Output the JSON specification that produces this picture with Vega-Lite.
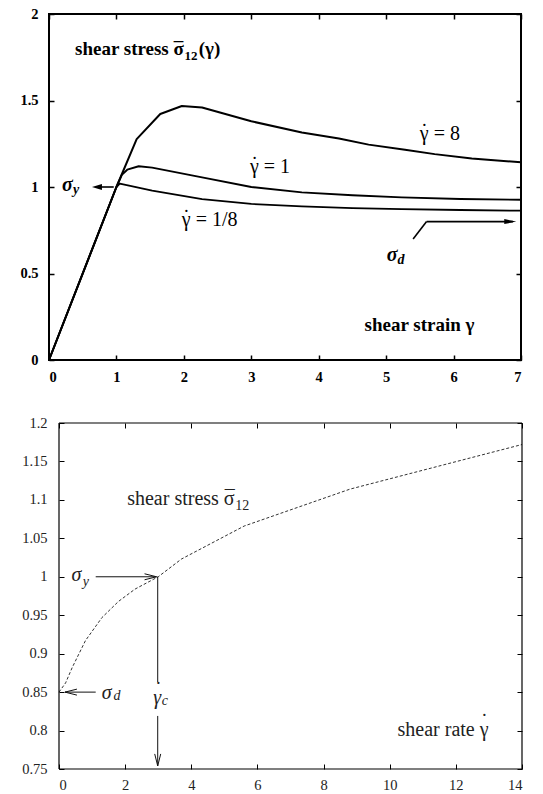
{
  "$schema": "https://vega.github.io/schema/vega-lite/v6.json",
  "padding": {"left": 18, "top": 5, "right": 5, "bottom": 0},
  "spacing": 30,
  "config": {
    "view": {"stroke": "black"},
    "axis": {"domain": false, "grid": false, "tickSize": -5, "tickColor": "black", "minExtent": 0, "title": null, "labelColor": "black", "labelFont": "Liberation Serif"},
    "text": {"font": "Liberation Serif"}
  },
  "datasets": {
    "curves": [
      {"x": 0, "y": 0, "rate": "8"}, {"x": 1, "y": 1, "rate": "8"}, {"x": 1.3, "y": 1.277, "rate": "8"}, {"x": 1.65, "y": 1.422, "rate": "8"}, {"x": 1.97, "y": 1.468, "rate": "8"}, {"x": 2.27, "y": 1.46, "rate": "8"}, {"x": 3.0, "y": 1.38, "rate": "8"}, {"x": 3.75, "y": 1.315, "rate": "8"}, {"x": 4.3, "y": 1.28, "rate": "8"}, {"x": 4.74, "y": 1.245, "rate": "8"}, {"x": 5.28, "y": 1.215, "rate": "8"}, {"x": 5.72, "y": 1.19, "rate": "8"}, {"x": 6.27, "y": 1.165, "rate": "8"}, {"x": 7, "y": 1.143, "rate": "8"},
      {"x": 0, "y": 0, "rate": "1"}, {"x": 1, "y": 1, "rate": "1"}, {"x": 1.08, "y": 1.07, "rate": "1"}, {"x": 1.16, "y": 1.1, "rate": "1"}, {"x": 1.33, "y": 1.12, "rate": "1"}, {"x": 1.53, "y": 1.112, "rate": "1"}, {"x": 2.27, "y": 1.056, "rate": "1"}, {"x": 3.0, "y": 1.0, "rate": "1"}, {"x": 3.75, "y": 0.969, "rate": "1"}, {"x": 4.5, "y": 0.952, "rate": "1"}, {"x": 5.23, "y": 0.94, "rate": "1"}, {"x": 6.1, "y": 0.931, "rate": "1"}, {"x": 7, "y": 0.926, "rate": "1"},
      {"x": 0, "y": 0, "rate": "1/8"}, {"x": 1, "y": 1, "rate": "1/8"}, {"x": 1.05, "y": 1.02, "rate": "1/8"}, {"x": 1.53, "y": 0.979, "rate": "1/8"}, {"x": 2.27, "y": 0.93, "rate": "1/8"}, {"x": 3.0, "y": 0.902, "rate": "1/8"}, {"x": 3.75, "y": 0.888, "rate": "1/8"}, {"x": 4.5, "y": 0.878, "rate": "1/8"}, {"x": 5.23, "y": 0.872, "rate": "1/8"}, {"x": 6.1, "y": 0.867, "rate": "1/8"}, {"x": 7, "y": 0.863, "rate": "1/8"}
    ],
    "topArrowLines": [
      {"x": 0.96, "y": 1.0, "x2": 0.7, "y2": 1.0},
      {"x": 5.40, "y": 0.699, "x2": 5.60, "y2": 0.80},
      {"x": 5.60, "y": 0.80, "x2": 6.88, "y2": 0.80}
    ],
    "topHeadLeft": [{"x": 0.637, "y": 1.0}],
    "topHeadRight": [{"x": 6.93, "y": 0.80}],
    "topBoldRight": [
      {"x": 2.0, "y": 1.763, "text": "shear stress σ"}
    ],
    "topBoldLeft": [
      {"x": 2.22, "y": 1.763, "text": "(γ)"},
      {"x": 4.68, "y": 0.169, "text": "shear strain γ"}
    ],
    "topBoldSub": [
      {"x": 2.01, "y": 1.735, "text": "12"}
    ],
    "topBoldBar": [
      {"x": 1.92, "y": 1.763, "text": "¯"}
    ],
    "topMath": [
      {"x": 5.50, "y": 1.272, "text": "γ = 8"},
      {"x": 2.98, "y": 1.081, "text": "γ = 1"},
      {"x": 1.97, "y": 0.775, "text": "γ = 1/8"}
    ],
    "topDots": [
      {"x": 5.567, "y": 1.282, "text": "˙"},
      {"x": 3.047, "y": 1.091, "text": "˙"},
      {"x": 2.037, "y": 0.785, "text": "˙"}
    ],
    "topSigma": [
      {"x": 0.193, "y": 0.977, "text": "σ"},
      {"x": 5.01, "y": 0.574, "text": "σ"}
    ],
    "topSub": [
      {"x": 0.356, "y": 0.96, "text": "y"},
      {"x": 5.17, "y": 0.555, "text": "d"}
    ],
    "rateCurve": [
      {"x": 0, "y": 0.85}, {"x": 0.2, "y": 0.862}, {"x": 0.4, "y": 0.882}, {"x": 0.8, "y": 0.917}, {"x": 1.3, "y": 0.947}, {"x": 1.8, "y": 0.968}, {"x": 2.3, "y": 0.984}, {"x": 3.0, "y": 1.0}, {"x": 3.7, "y": 1.023}, {"x": 5.6, "y": 1.066}, {"x": 8.8, "y": 1.114}, {"x": 14, "y": 1.172}
    ],
    "botFrame": [
      {"x": 0, "y": 0.75, "x2": 14, "y2": 0.75},
      {"x": 0, "y": 1.2, "x2": 14, "y2": 1.2},
      {"x": 0, "y": 0.75, "x2": 0, "y2": 1.2},
      {"x": 14, "y": 0.75, "x2": 14, "y2": 1.2}
    ],
    "botArrowLines": [
      {"x": 1.11, "y": 1.0, "x2": 2.95, "y2": 1.0},
      {"x": 1.11, "y": 0.85, "x2": 0.18, "y2": 0.85},
      {"x": 2.985, "y": 1.0, "x2": 2.985, "y2": 0.863},
      {"x": 2.985, "y": 0.819, "x2": 2.985, "y2": 0.754}
    ],
    "botHeadRight": [{"x": 2.95, "y": 1.0}],
    "botHeadLeft": [{"x": 0.18, "y": 0.85}],
    "botHeadDown": [{"x": 2.985, "y": 0.754}],
    "botTextRight": [
      {"x": 5.31, "y": 1.093, "text": "shear stress σ"},
      {"x": 12.99, "y": 0.793, "text": "shear rate γ"}
    ],
    "botTextSub": [
      {"x": 5.33, "y": 1.087, "text": "12"}
    ],
    "botMarks": [
      {"x": 5.16, "y": 1.093, "text": "¯"},
      {"x": 12.86, "y": 0.803, "text": "˙"},
      {"x": 3.0, "y": 0.845, "text": "˙"}
    ],
    "botMath": [
      {"x": 0.38, "y": 0.995, "text": "σ"},
      {"x": 1.29, "y": 0.841, "text": "σ"},
      {"x": 2.85, "y": 0.835, "text": "γ"}
    ],
    "botSub": [
      {"x": 0.717, "y": 0.988, "text": "y"},
      {"x": 1.645, "y": 0.84, "text": "d"},
      {"x": 3.11, "y": 0.833, "text": "c"}
    ]
  },
  "vconcat": [
    {
      "width": 472,
      "height": 346,
      "view": {"stroke": "black", "strokeWidth": 2},
      "resolve": {"axis": {"x": "independent", "y": "independent"}},
      "layer": [
        {
          "data": {"name": "curves"},
          "mark": {"type": "line", "color": "black", "strokeJoin": "round"},
          "encoding": {
            "x": {"field": "x", "type": "quantitative", "scale": {"domain": [0, 7], "nice": false, "zero": false},
                  "axis": {"orient": "bottom", "values": [0, 1, 2, 3, 4, 5, 6, 7], "labelFont": "Liberation Serif", "labelFontWeight": "bold", "labelFontSize": 14.5, "labelPadding": 15, "tickWidth": 1.5}},
            "y": {"field": "y", "type": "quantitative", "scale": {"domain": [0, 2], "nice": false},
                  "axis": {"orient": "left", "values": [0, 0.5, 1, 1.5, 2], "format": "~g", "labelFont": "Liberation Serif", "labelFontWeight": "bold", "labelFontSize": 14.5, "labelPadding": 16, "tickWidth": 1.5}},
            "strokeWidth": {"field": "rate", "type": "nominal", "scale": {"domain": ["8", "1", "1/8"], "range": [2, 1.8, 1.1]}, "legend": null}
          }
        },
        {
          "data": {"name": "topArrowLines"},
          "mark": {"type": "rule", "color": "black", "strokeWidth": 1.6},
          "encoding": {
            "x": {"field": "x", "type": "quantitative", "scale": {"domain": [0, 7], "nice": false, "zero": false},
                  "axis": {"orient": "top", "values": [0, 1, 2, 3, 4, 5, 6, 7], "labels": false, "tickWidth": 1.5}},
            "y": {"field": "y", "type": "quantitative", "scale": {"domain": [0, 2], "nice": false},
                  "axis": {"orient": "right", "values": [0, 0.5, 1, 1.5, 2], "labels": false, "tickWidth": 1.5}},
            "x2": {"field": "x2"},
            "y2": {"field": "y2"}
          }
        },
        {
          "data": {"name": "topHeadLeft"},
          "mark": {"type": "point", "shape": "M0,0L2,-0.6L2,0.6Z", "filled": true, "color": "black", "size": 100, "opacity": 1},
          "encoding": {
            "x": {"field": "x", "type": "quantitative", "scale": {"domain": [0, 7], "nice": false, "zero": false}, "axis": null},
            "y": {"field": "y", "type": "quantitative", "scale": {"domain": [0, 2], "nice": false}, "axis": null}
          }
        },
        {
          "data": {"name": "topHeadRight"},
          "mark": {"type": "point", "shape": "M0,0L-2.4,-0.5L-2.4,0.5Z", "filled": true, "color": "black", "size": 100, "opacity": 1},
          "encoding": {
            "x": {"field": "x", "type": "quantitative", "scale": {"domain": [0, 7], "nice": false, "zero": false}, "axis": null},
            "y": {"field": "y", "type": "quantitative", "scale": {"domain": [0, 2], "nice": false}, "axis": null}
          }
        },
        {
          "data": {"name": "topBoldRight"},
          "mark": {"type": "text", "align": "right", "baseline": "alphabetic", "fontSize": 19, "fontWeight": "bold", "color": "black"},
          "encoding": {
            "x": {"field": "x", "type": "quantitative", "scale": {"domain": [0, 7], "nice": false, "zero": false}, "axis": null},
            "y": {"field": "y", "type": "quantitative", "scale": {"domain": [0, 2], "nice": false}, "axis": null},
            "text": {"field": "text"}
          }
        },
        {
          "data": {"name": "topBoldLeft"},
          "mark": {"type": "text", "align": "left", "baseline": "alphabetic", "fontSize": 19, "fontWeight": "bold", "color": "black"},
          "encoding": {
            "x": {"field": "x", "type": "quantitative", "scale": {"domain": [0, 7], "nice": false, "zero": false}, "axis": null},
            "y": {"field": "y", "type": "quantitative", "scale": {"domain": [0, 2], "nice": false}, "axis": null},
            "text": {"field": "text"}
          }
        },
        {
          "data": {"name": "topBoldSub"},
          "mark": {"type": "text", "align": "left", "baseline": "alphabetic", "fontSize": 13, "fontWeight": "bold", "color": "black"},
          "encoding": {
            "x": {"field": "x", "type": "quantitative", "scale": {"domain": [0, 7], "nice": false, "zero": false}, "axis": null},
            "y": {"field": "y", "type": "quantitative", "scale": {"domain": [0, 2], "nice": false}, "axis": null},
            "text": {"field": "text"}
          }
        },
        {
          "data": {"name": "topBoldBar"},
          "mark": {"type": "text", "align": "center", "baseline": "alphabetic", "fontSize": 19, "fontWeight": "bold", "color": "black"},
          "encoding": {
            "x": {"field": "x", "type": "quantitative", "scale": {"domain": [0, 7], "nice": false, "zero": false}, "axis": null},
            "y": {"field": "y", "type": "quantitative", "scale": {"domain": [0, 2], "nice": false}, "axis": null},
            "text": {"field": "text"}
          }
        },
        {
          "data": {"name": "topMath"},
          "mark": {"type": "text", "align": "left", "baseline": "alphabetic", "fontSize": 20, "color": "black"},
          "encoding": {
            "x": {"field": "x", "type": "quantitative", "scale": {"domain": [0, 7], "nice": false, "zero": false}, "axis": null},
            "y": {"field": "y", "type": "quantitative", "scale": {"domain": [0, 2], "nice": false}, "axis": null},
            "text": {"field": "text"}
          }
        },
        {
          "data": {"name": "topDots"},
          "mark": {"type": "text", "align": "center", "baseline": "alphabetic", "fontSize": 20, "color": "black"},
          "encoding": {
            "x": {"field": "x", "type": "quantitative", "scale": {"domain": [0, 7], "nice": false, "zero": false}, "axis": null},
            "y": {"field": "y", "type": "quantitative", "scale": {"domain": [0, 2], "nice": false}, "axis": null},
            "text": {"field": "text"}
          }
        },
        {
          "data": {"name": "topSigma"},
          "mark": {"type": "text", "align": "left", "baseline": "alphabetic", "fontSize": 20, "fontWeight": "bold", "fontStyle": "italic", "color": "black"},
          "encoding": {
            "x": {"field": "x", "type": "quantitative", "scale": {"domain": [0, 7], "nice": false, "zero": false}, "axis": null},
            "y": {"field": "y", "type": "quantitative", "scale": {"domain": [0, 2], "nice": false}, "axis": null},
            "text": {"field": "text"}
          }
        },
        {
          "data": {"name": "topSub"},
          "mark": {"type": "text", "align": "left", "baseline": "alphabetic", "fontSize": 14, "fontWeight": "bold", "fontStyle": "italic", "color": "black"},
          "encoding": {
            "x": {"field": "x", "type": "quantitative", "scale": {"domain": [0, 7], "nice": false, "zero": false}, "axis": null},
            "y": {"field": "y", "type": "quantitative", "scale": {"domain": [0, 2], "nice": false}, "axis": null},
            "text": {"field": "text"}
          }
        }
      ]
    },
    {
      "width": 473,
      "height": 346,
      "view": {"stroke": null},
      "resolve": {"axis": {"x": "independent", "y": "independent"}},
      "layer": [
        {
          "data": {"name": "rateCurve"},
          "mark": {"type": "line", "color": "#333", "strokeWidth": 1, "strokeDash": [3, 2]},
          "encoding": {
            "x": {"field": "x", "type": "quantitative", "scale": {"domain": [0, 14], "nice": false, "zero": false, "range": [10, 473]},
                  "axis": {"orient": "bottom", "values": [0, 2, 4, 6, 8, 10, 12, 14], "labelFont": "Liberation Serif", "labelFontSize": 14.5, "labelPadding": 14, "labelColor": "#222"}},
            "y": {"field": "y", "type": "quantitative", "scale": {"domain": [0.75, 1.2], "nice": false, "zero": false},
                  "axis": {"orient": "left", "offset": -10, "values": [0.75, 0.8, 0.85, 0.9, 0.95, 1, 1.05, 1.1, 1.15, 1.2], "format": "~g", "labelFont": "Liberation Serif", "labelFontSize": 14.5, "labelPadding": 17, "labelColor": "#222"}}
          }
        },
        {
          "data": {"name": "botFrame"},
          "mark": {"type": "rule", "color": "black", "strokeWidth": 1.2},
          "encoding": {
            "x": {"field": "x", "type": "quantitative", "scale": {"domain": [0, 14], "nice": false, "zero": false, "range": [10, 473]},
                  "axis": {"orient": "top", "values": [0, 2, 4, 6, 8, 10, 12, 14], "labels": false}},
            "y": {"field": "y", "type": "quantitative", "scale": {"domain": [0.75, 1.2], "nice": false, "zero": false},
                  "axis": {"orient": "right", "values": [0.75, 0.8, 0.85, 0.9, 0.95, 1, 1.05, 1.1, 1.15, 1.2], "labels": false}},
            "x2": {"field": "x2"},
            "y2": {"field": "y2"}
          }
        },
        {
          "data": {"name": "botArrowLines"},
          "mark": {"type": "rule", "color": "#111", "strokeWidth": 1},
          "encoding": {
            "x": {"field": "x", "type": "quantitative", "scale": {"domain": [0, 14], "nice": false, "zero": false, "range": [10, 473]}, "axis": null},
            "y": {"field": "y", "type": "quantitative", "scale": {"domain": [0.75, 1.2], "nice": false, "zero": false}, "axis": null},
            "x2": {"field": "x2"},
            "y2": {"field": "y2"}
          }
        },
        {
          "data": {"name": "botHeadRight"},
          "mark": {"type": "point", "shape": "M-2.4,-0.6L0,0L-2.4,0.6", "filled": false, "color": "#111", "strokeWidth": 1, "size": 100, "opacity": 1},
          "encoding": {
            "x": {"field": "x", "type": "quantitative", "scale": {"domain": [0, 14], "nice": false, "zero": false, "range": [10, 473]}, "axis": null},
            "y": {"field": "y", "type": "quantitative", "scale": {"domain": [0.75, 1.2], "nice": false, "zero": false}, "axis": null}
          }
        },
        {
          "data": {"name": "botHeadLeft"},
          "mark": {"type": "point", "shape": "M2.4,-0.6L0,0L2.4,0.6", "filled": false, "color": "#111", "strokeWidth": 1, "size": 100, "opacity": 1},
          "encoding": {
            "x": {"field": "x", "type": "quantitative", "scale": {"domain": [0, 14], "nice": false, "zero": false, "range": [10, 473]}, "axis": null},
            "y": {"field": "y", "type": "quantitative", "scale": {"domain": [0.75, 1.2], "nice": false, "zero": false}, "axis": null}
          }
        },
        {
          "data": {"name": "botHeadDown"},
          "mark": {"type": "point", "shape": "M-0.6,-2.4L0,0L0.6,-2.4", "filled": false, "color": "#111", "strokeWidth": 1, "size": 100, "opacity": 1},
          "encoding": {
            "x": {"field": "x", "type": "quantitative", "scale": {"domain": [0, 14], "nice": false, "zero": false, "range": [10, 473]}, "axis": null},
            "y": {"field": "y", "type": "quantitative", "scale": {"domain": [0.75, 1.2], "nice": false, "zero": false}, "axis": null}
          }
        },
        {
          "data": {"name": "botTextRight"},
          "mark": {"type": "text", "align": "right", "baseline": "alphabetic", "fontSize": 20, "color": "#222"},
          "encoding": {
            "x": {"field": "x", "type": "quantitative", "scale": {"domain": [0, 14], "nice": false, "zero": false, "range": [10, 473]}, "axis": null},
            "y": {"field": "y", "type": "quantitative", "scale": {"domain": [0.75, 1.2], "nice": false, "zero": false}, "axis": null},
            "text": {"field": "text"}
          }
        },
        {
          "data": {"name": "botTextSub"},
          "mark": {"type": "text", "align": "left", "baseline": "alphabetic", "fontSize": 14, "color": "#222"},
          "encoding": {
            "x": {"field": "x", "type": "quantitative", "scale": {"domain": [0, 14], "nice": false, "zero": false, "range": [10, 473]}, "axis": null},
            "y": {"field": "y", "type": "quantitative", "scale": {"domain": [0.75, 1.2], "nice": false, "zero": false}, "axis": null},
            "text": {"field": "text"}
          }
        },
        {
          "data": {"name": "botMarks"},
          "mark": {"type": "text", "align": "center", "baseline": "alphabetic", "fontSize": 20, "color": "#222"},
          "encoding": {
            "x": {"field": "x", "type": "quantitative", "scale": {"domain": [0, 14], "nice": false, "zero": false, "range": [10, 473]}, "axis": null},
            "y": {"field": "y", "type": "quantitative", "scale": {"domain": [0.75, 1.2], "nice": false, "zero": false}, "axis": null},
            "text": {"field": "text"}
          }
        },
        {
          "data": {"name": "botMath"},
          "mark": {"type": "text", "align": "left", "baseline": "alphabetic", "fontSize": 20, "fontStyle": "italic", "color": "#222"},
          "encoding": {
            "x": {"field": "x", "type": "quantitative", "scale": {"domain": [0, 14], "nice": false, "zero": false, "range": [10, 473]}, "axis": null},
            "y": {"field": "y", "type": "quantitative", "scale": {"domain": [0.75, 1.2], "nice": false, "zero": false}, "axis": null},
            "text": {"field": "text"}
          }
        },
        {
          "data": {"name": "botSub"},
          "mark": {"type": "text", "align": "left", "baseline": "alphabetic", "fontSize": 14, "fontStyle": "italic", "color": "#222"},
          "encoding": {
            "x": {"field": "x", "type": "quantitative", "scale": {"domain": [0, 14], "nice": false, "zero": false, "range": [10, 473]}, "axis": null},
            "y": {"field": "y", "type": "quantitative", "scale": {"domain": [0.75, 1.2], "nice": false, "zero": false}, "axis": null},
            "text": {"field": "text"}
          }
        }
      ]
    }
  ]
}
